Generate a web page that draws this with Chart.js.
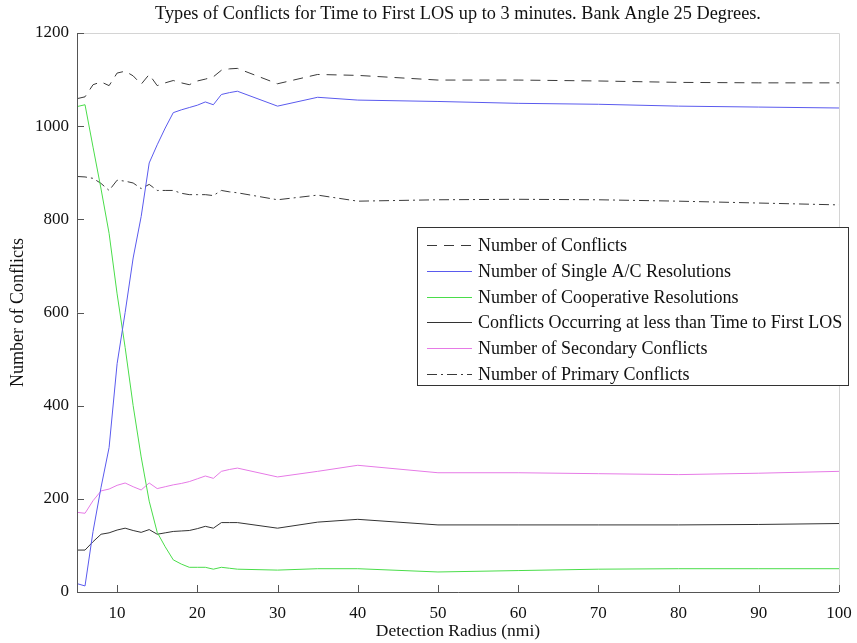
<!DOCTYPE html>
<html>
<head>
<meta charset="utf-8">
<script src="https://cdn.jsdelivr.net/npm/chart.js"></script>
<style>
  html, body { margin: 0; padding: 0; background: #fff; }
  #wrap { width: 857px; height: 643px; }
</style>
</head>
<body>
<div id="wrap"><canvas id="conflictChart" width="857" height="643"></canvas></div>
<script>
// detection radius (nmi)
const radius = [5, 6, 7, 8, 9, 10, 11, 12, 13, 14, 15, 16, 17, 18, 19, 20, 21, 22, 23, 24, 25, 30, 35, 40, 50, 60, 70, 80, 90, 100];

const numConflicts = [1059, 1063, 1089, 1095, 1087, 1114, 1118, 1108, 1090, 1111, 1087, 1093, 1098, 1093, 1089, 1097, 1101, 1106, 1120, 1123, 1124, 1091, 1111, 1109, 1099, 1099, 1097, 1094, 1093, 1093];
const singleAC = [18, 13, 130, 225, 310, 490, 600, 717, 806, 921, 960, 996, 1029, 1035, 1040, 1045, 1052, 1046, 1068, 1072, 1075, 1043, 1062, 1056, 1053, 1049, 1047, 1043, 1041, 1039];
const cooperative = [1042, 1046, 955, 865, 770, 640, 525, 400, 290, 195, 128, 97, 69, 60, 53, 53, 53, 49, 53, 51, 49, 47, 50, 50, 43, 46, 49, 50, 50, 50];
const underLOS = [90, 90, 108, 124, 127, 133, 137, 132, 128, 134, 124, 127, 130, 131, 132, 136, 141, 137, 149, 149, 149, 137, 150, 156, 144, 144, 144, 144, 145, 147];
const secondary = [171, 169, 196, 217, 221, 229, 234, 226, 219, 234, 222, 226, 230, 233, 237, 243, 249, 244, 259, 263, 266, 247, 259, 272, 256, 256, 254, 252, 255, 259];
const primary = [892, 891, 888, 877, 862, 884, 882, 878, 866, 875, 862, 862, 862, 856, 853, 853, 853, 851, 862, 859, 857, 842, 852, 839, 842, 843, 842, 839, 835, 831];

const xTicks = [10, 20, 30, 40, 50, 60, 70, 80, 90, 100];
const yTicks = [0, 200, 400, 600, 800, 1000, 1200];

const chartTitle = 'Types of Conflicts for Time to First LOS up to 3 minutes. Bank Angle 25 Degrees.';
const serif = "'Liberation Serif', 'Times New Roman', serif";

function pts(vals) {
  return vals.map((v, i) => ({ x: radius[i], y: v }));
}

function series(label, vals, color, dash) {
  return {
    label: label,
    data: pts(vals),
    borderColor: color,
    borderWidth: 1,
    borderDash: dash,
    pointRadius: 0,
    tension: 0,
    fill: false
  };
}

// frame, inward tick marks, title over the axes and the boxed legend (matlab look)
const matlabStyle = {
  id: 'matlabStyle',
  beforeDatasetsDraw(chart) {
    const { ctx, chartArea: a } = chart;
    ctx.save();
    ctx.lineWidth = 1;
    ctx.strokeStyle = '#d4d4d4';
    ctx.beginPath();
    ctx.moveTo(a.left, a.top + 0.5);
    ctx.lineTo(a.right + 0.5, a.top + 0.5);
    ctx.lineTo(a.right + 0.5, a.bottom);
    ctx.stroke();

    ctx.fillStyle = '#111';
    ctx.font = '18.3px ' + serif;
    ctx.textAlign = 'center';
    ctx.textBaseline = 'middle';
    ctx.fillText(chartTitle, (a.left + a.right) / 2, 14);
    ctx.restore();
  },
  afterDatasetsDraw(chart) {
    const { ctx, chartArea: a, scales } = chart;
    ctx.save();
    ctx.lineWidth = 1;
    ctx.strokeStyle = '#555';
    ctx.beginPath();
    ctx.moveTo(a.left + 0.5, a.top);
    ctx.lineTo(a.left + 0.5, a.bottom + 0.5);
    ctx.lineTo(a.right, a.bottom + 0.5);
    ctx.stroke();
    ctx.beginPath();
    xTicks.forEach(t => {
      const px = Math.round(scales.x.getPixelForValue(t)) + 0.5;
      ctx.moveTo(px, a.bottom);
      ctx.lineTo(px, a.bottom - 7);
    });
    yTicks.forEach(t => {
      const py = Math.round(scales.y.getPixelForValue(t)) + 0.5;
      ctx.moveTo(a.left, py);
      ctx.lineTo(a.left + 7, py);
    });
    ctx.stroke();

    // legend box
    const bx = 417.5, by = 227.5, bw = 431, bh = 158;
    ctx.fillStyle = '#fff';
    ctx.fillRect(bx, by, bw, bh);
    ctx.strokeStyle = '#333';
    ctx.strokeRect(bx, by, bw, bh);
    ctx.font = '18px ' + serif;
    ctx.textBaseline = 'middle';
    chart.data.datasets.forEach((ds, i) => {
      const y = Math.round(245 + i * 25.8) + 0.5;
      ctx.strokeStyle = ds.borderColor;
      ctx.setLineDash(ds.borderDash || []);
      ctx.beginPath();
      ctx.moveTo(427, y);
      ctx.lineTo(472, y);
      ctx.stroke();
      ctx.setLineDash([]);
      ctx.fillStyle = '#111';
      ctx.fillText(ds.label, 478, y + 1);
    });
    ctx.restore();
  }
};

new Chart(document.getElementById('conflictChart').getContext('2d'), {
  type: 'line',
  data: {
    datasets: [
      series('Number of Conflicts', numConflicts, '#3a3a3a', [10, 7]),
      series('Number of Single A/C Resolutions', singleAC, '#5a5aee', []),
      series('Number of Cooperative Resolutions', cooperative, '#4add4a', []),
      series('Conflicts Occurring at less than Time to First LOS', underLOS, '#333333', []),
      series('Number of Secondary Conflicts', secondary, '#e67ae6', []),
      series('Number of Primary Conflicts', primary, '#3a3a3a', [10, 4, 2, 4])
    ]
  },
  options: {
    responsive: false,
    animation: false,
    layout: { padding: { left: 0, right: 18, top: 33, bottom: 0 } },
    plugins: {
      legend: { display: false },
      tooltip: { enabled: false },
      title: { display: false }
    },
    scales: {
      x: {
        type: 'linear',
        min: 5,
        max: 100,
        afterBuildTicks: s => { s.ticks = xTicks.map(v => ({ value: v })); },
        afterFit: s => { s.height = 51; s.paddingLeft = 0; s.paddingRight = 0; },
        grid: { display: false, drawTicks: false },
        border: { display: false },
        ticks: { color: '#111', font: { family: serif, size: 17 }, padding: 11, maxRotation: 0 },
        title: {
          display: true,
          text: 'Detection Radius (nmi)',
          color: '#111',
          font: { family: serif, size: 17.5 },
          padding: { top: 0, bottom: 1 }
        }
      },
      y: {
        min: 0,
        max: 1200,
        afterBuildTicks: s => { s.ticks = yTicks.map(v => ({ value: v })); },
        afterFit: s => { s.width = 77; s.paddingTop = 0; s.paddingBottom = 0; },
        grid: { display: false, drawTicks: false },
        border: { display: false },
        ticks: { color: '#111', font: { family: serif, size: 17 }, padding: 8, callback: v => String(v) },
        title: {
          display: true,
          text: 'Number of Conflicts',
          color: '#111',
          font: { family: serif, size: 18 },
          padding: { top: 7, bottom: 0 }
        }
      }
    }
  },
  plugins: [matlabStyle]
});
</script>
</body>
</html>
